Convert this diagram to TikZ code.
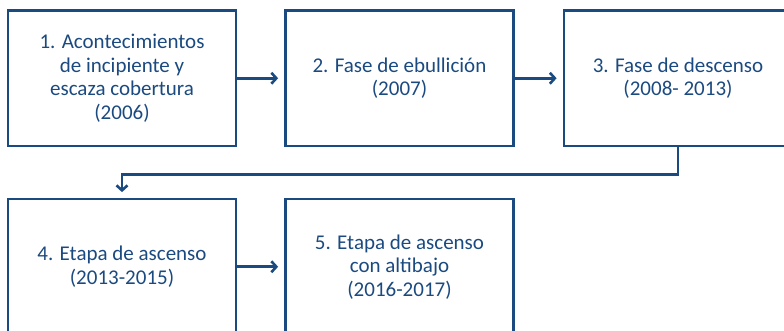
\documentclass[tikz,border=0pt]{standalone}
\usepackage{fontspec}
\setmainfont{Carlito}
\usetikzlibrary{arrows.meta}
\definecolor{navy}{HTML}{1B4A80}
\begin{document}
\begin{tikzpicture}[x=1pt,y=-1pt,
  stagebox/.style={draw=navy,line width=2.8pt,minimum width=228pt,minimum height=135.5pt,
    text=navy,align=center,inner sep=0pt,font=\fontsize{21}{23.5}\selectfont},
  link/.style={draw=navy,line width=2.6pt,-{Straight Barb[length=5pt,width=11pt,line width=2.6pt]}}]
\useasboundingbox (0,0) rectangle (784,331);
\clip (0,0) rectangle (784,331);
\node[stagebox] (b1) at (122,78.25) {1. Acontecimientos\\de incipiente y\\escaza cobertura\\(2006)};
\node[stagebox] (b2) at (399.5,78.25) {2. Fase de ebullición\\(2007)};
\node[stagebox] (b3) at (678,78.25) {3. Fase de descenso\\(2008- 2013)};
\node[stagebox] (b4) at (122,266.75) {4. Etapa de ascenso\\(2013-2015)};
\node[stagebox] (b5) at (399.5,266.75) {5. Etapa de ascenso\\con altibajo\\(2016-2017)};
\draw[link] (b1.east) -- ([xshift=-6pt]b2.west);
\draw[link] (b2.east) -- ([xshift=-6pt]b3.west);
\draw[link] (b4.east) -- ([xshift=-6pt]b5.west);
\coordinate (c1) at ([yshift=-27pt]b3.south);
\draw[link] (b3.south) -- (c1) -| ([yshift=5.5pt]b4.north);
\end{tikzpicture}
\end{document}
